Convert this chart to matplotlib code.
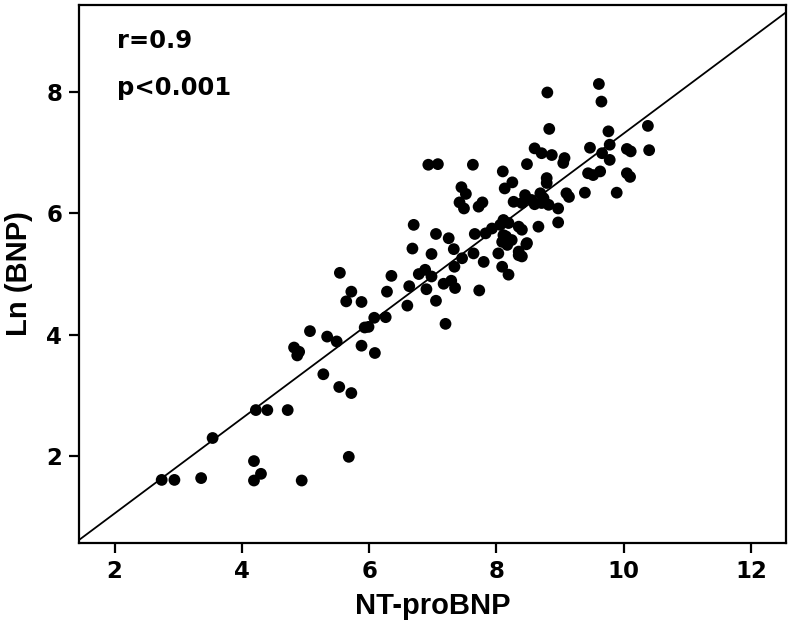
import numpy as np
import matplotlib.pyplot as plt

plt.rcParams['font.family'] = ['DejaVu Sans']
plt.rcParams['font.weight'] = 'bold'

# NT-proBNP (x) and Ln(BNP) (y)
nt_probnp = [2.74, 2.94, 3.36, 3.54, 4.19, 4.19, 4.30, 4.22, 4.40, 4.72,
             4.94, 5.68, 5.28, 5.53, 5.72, 4.82, 4.90, 4.87, 5.07, 5.34,
             5.49, 5.88, 6.09, 5.93, 5.99, 6.08, 6.26, 5.72, 5.64, 5.88,
             5.54, 6.35, 6.28, 6.60, 6.63, 6.78, 6.88, 6.98, 6.90, 7.17,
             7.29, 7.35, 7.05, 7.20, 7.73, 6.70, 6.68, 7.05, 7.25, 6.98,
             7.33, 7.34, 7.46, 7.64, 7.66, 7.80, 6.93, 7.08, 7.63, 7.45,
             7.52, 7.42, 7.49, 7.72, 7.78, 8.10, 8.13, 8.25, 8.48, 8.60,
             8.71, 8.87, 9.07, 9.05, 8.80, 8.83, 9.61, 9.65, 9.47, 9.76,
             9.78, 9.66, 9.78, 10.05, 10.11, 10.38, 10.40, 10.05, 10.10, 9.44,
             9.52, 9.63, 9.39, 9.89, 8.79, 8.79, 9.10, 9.14, 8.45, 8.06,
             8.11, 8.09, 8.19, 8.27, 8.40, 8.55, 8.71, 8.82, 8.74, 8.97,
             8.97, 8.66, 8.35, 8.40, 8.19, 7.83, 8.48, 8.09, 8.17, 8.24,
             8.35, 8.40, 8.03, 8.15, 8.47, 8.11, 8.69, 8.60, 7.93, 8.35]
ln_bnp = [1.61, 1.61, 1.64, 2.30, 1.92, 1.60, 1.71, 2.76, 2.76, 2.76,
          1.60, 1.99, 3.35, 3.14, 3.04, 3.79, 3.72, 3.66, 4.06, 3.97,
          3.89, 3.82, 3.70, 4.12, 4.13, 4.28, 4.29, 4.71, 4.55, 4.54,
          5.02, 4.97, 4.71, 4.48, 4.80, 5.00, 5.07, 4.96, 4.75, 4.84,
          4.89, 4.77, 4.56, 4.18, 4.73, 5.81, 5.42, 5.66, 5.59, 5.33,
          5.41, 5.12, 5.26, 5.34, 5.66, 5.20, 6.80, 6.81, 6.80, 6.43,
          6.32, 6.18, 6.08, 6.11, 6.18, 6.69, 6.41, 6.51, 6.81, 7.07,
          6.99, 6.96, 6.91, 6.83, 7.99, 7.39, 8.13, 7.84, 7.08, 7.35,
          7.13, 6.99, 6.88, 7.06, 7.02, 7.44, 7.04, 6.66, 6.60, 6.66,
          6.63, 6.69, 6.34, 6.34, 6.58, 6.50, 6.33, 6.27, 6.30, 5.81,
          5.64, 5.12, 4.99, 6.19, 6.17, 6.22, 6.17, 6.14, 6.25, 6.08,
          5.85, 5.78, 5.78, 5.73, 5.84, 5.67, 5.51, 5.53, 5.48, 5.56,
          5.37, 5.29, 5.34, 5.62, 5.49, 5.89, 6.33, 6.15, 5.75, 5.31]

# regression line end points
line_x = [1.44, 12.55]
line_y = [0.62, 9.31]

fig = plt.figure(figsize=(7.92, 6.30), dpi=100)
ax = fig.add_axes([0.0997, 0.138, 0.8927, 0.854])

ax.scatter(nt_probnp, ln_bnp, s=72, color='black', edgecolors='none', zorder=3)
ax.plot(line_x, line_y, color='black', linewidth=1.3)

ax.set_xlim(1.44, 12.55)
ax.set_ylim(0.57, 9.43)
ax.set_xticks([2, 4, 6, 8, 10, 12])
ax.set_yticks([2, 4, 6, 8])

for side in ax.spines.values():
    side.set_linewidth(1.6)
ax.tick_params(direction='out', length=7, width=1.6, labelsize=16.5, pad=5)

lab = dict(family=['Liberation Sans'], fontsize=21, fontweight='bold')
ax.set_xlabel('NT-proBNP', labelpad=7, **lab)
ax.set_ylabel('Ln (BNP)', labelpad=10, **lab)

ax.text(0.054, 0.920, 'r=0.9', transform=ax.transAxes, fontsize=17.5,
        fontweight='bold', va='baseline', ha='left')
ax.text(0.054, 0.833, 'p<0.001', transform=ax.transAxes, fontsize=17.5,
        fontweight='bold', va='baseline', ha='left')

plt.savefig('out.png', dpi=100)
